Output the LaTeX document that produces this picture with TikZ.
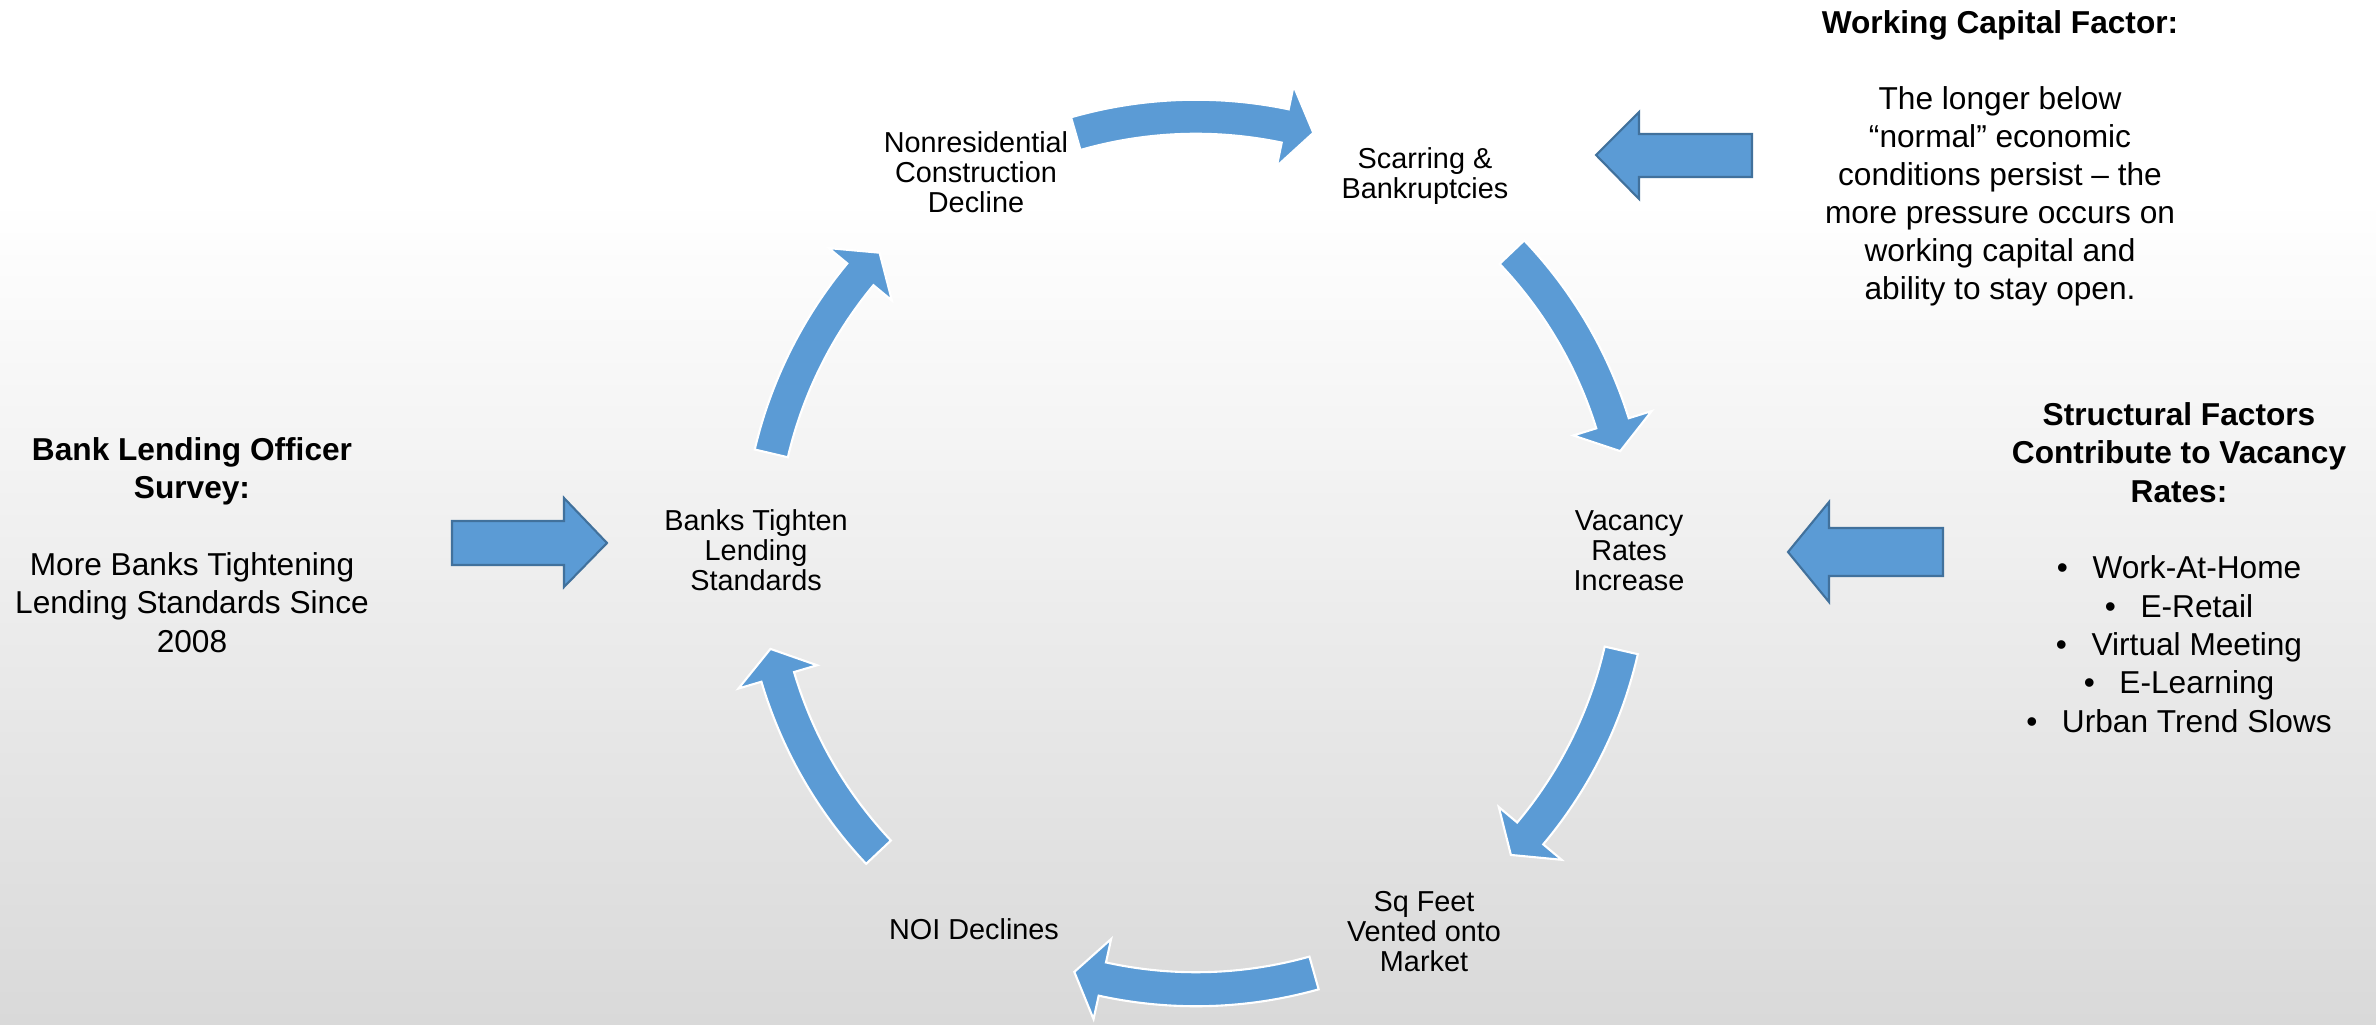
\documentclass[tikz,border=0pt]{standalone}
\usepackage{fontspec}
\setmainfont{Liberation Sans}
\usetikzlibrary{calc}
\definecolor{arrfill}{HTML}{5B9BD5}
\definecolor{arredge}{HTML}{41719C}
\definecolor{bgbot}{HTML}{D9D9D9}
\newcommand\cyclearrow[2]{%
  \pgfmathsetmacro\hbase{#2+3.8}%
  \filldraw[cycarrow] ($(C)+(#1:4.53cm)$) arc[start angle=#1, end angle=\hbase, radius=4.53cm]
    -- ($(C)+(\hbase:4.77cm)$) -- ($(C)+(#2:4.36cm)$) -- ($(C)+(\hbase:3.95cm)$)
    -- ($(C)+(\hbase:4.19cm)$) arc[start angle=\hbase, end angle=#1, radius=4.19cm] -- cycle;}
\begin{document}
\begin{tikzpicture}[x=0.01cm,y=0.01cm,
  cycarrow/.style={fill=arrfill, draw=white, line width=0.6pt, line join=miter},
  blockarrow/.style={fill=arrfill, draw=arredge, line width=0.6pt, line join=miter},
  cyclabel/.style={font=\fontsize{8.2}{8.54}\selectfont, align=center, inner sep=0pt, anchor=north},
  sidetext/.style={font=\fontsize{9}{10.9}\selectfont, align=center, inner sep=0pt, anchor=north},
  wctext/.style={font=\fontsize{9}{10.8}\selectfont, align=center, inner sep=0pt, anchor=north}]
\useasboundingbox (0,0) rectangle (2376,1024);
\fill[white] (0,0) rectangle (2376,1024);
\shade[top color=white, bottom color=bgbot] (0,0) rectangle (2376,824);
\coordinate (C) at (1196,471);
% cycle labels
\node[cyclabel] (n1) at (976,893) {Nonresidential\\Construction\\Decline};
\node[cyclabel] (n2) at (1425,877) {Scarring \&\\Bankruptcies};
\node[cyclabel] (n3) at (1629,514) {Vacancy\\Rates\\Increase};
\node[cyclabel] (n4) at (1424,133) {Sq Feet\\Vented onto\\Market};
\node[cyclabel] (n5) at (974,106) {NOI Declines};
\node[cyclabel] (n6) at (756,515) {Banks Tighten\\Lending\\Standards};
% curved cycle arrows
\cyclearrow{106}{74.4}
\cyclearrow{43.6}{13.5}
\cyclearrow{-12.9}{-43.8}
\cyclearrow{-74.3}{-106.2}
\cyclearrow{223.3}{192.7}
\cyclearrow{166.8}{136.5}
% side texts
\node[sidetext] (left) at (192,587) {\textbf{Bank Lending Officer}\\\textbf{Survey:}\\[10.9pt]More Banks Tightening\\Lending Standards Since\\2008};
\node[wctext] (wc) at (2000,1014) {\textbf{Working Capital Factor:}\\[10.8pt]The longer below\\“normal” economic\\conditions persist – the\\more pressure occurs on\\working capital and\\ability to stay open.};
\node[sidetext] (sf) at (2179,622) {\textbf{Structural Factors}\\\textbf{Contribute to Vacancy}\\\textbf{Rates:}\\[10.9pt]\textbullet\hspace{7pt}Work-At-Home\\\textbullet\hspace{7pt}E-Retail\\\textbullet\hspace{7pt}Virtual Meeting\\\textbullet\hspace{7pt}E-Learning\\\textbullet\hspace{7pt}Urban Trend Slows};
% straight block arrows
\filldraw[blockarrow] (452,503) -- (564,503) -- (564,526) -- (607,481) -- (564,437) -- (564,459) -- (452,459) -- cycle;
\filldraw[blockarrow] (1752,890) -- (1639,890) -- (1639,912) -- (1596,869) -- (1639,825) -- (1639,847) -- (1752,847) -- cycle;
\filldraw[blockarrow] (1943,496) -- (1829,496) -- (1829,522) -- (1788,472) -- (1829,422) -- (1829,448) -- (1943,448) -- cycle;
\end{tikzpicture}
\end{document}
